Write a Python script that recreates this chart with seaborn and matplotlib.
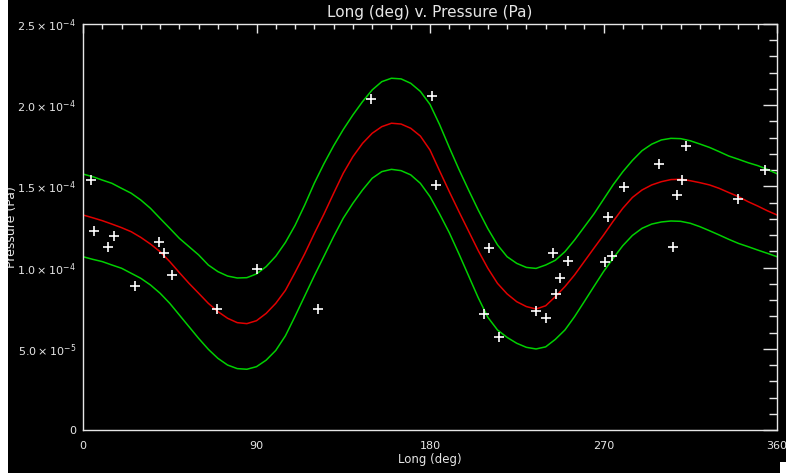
import numpy as np
import pandas as pd
import matplotlib
import matplotlib.pyplot as plt
import seaborn as sns
from matplotlib.ticker import MultipleLocator
from matplotlib.patches import Rectangle

# Force headless mode
matplotlib.use("Agg")

# --- Data (pressure in units of 1e-4 Pa) ---
fit_lon = list(range(0, 361, 5))
fit_mid = [1.324, 1.307, 1.289, 1.268, 1.246, 1.221, 1.186, 1.145, 1.098, 1.037,
           0.969, 0.903, 0.842, 0.780, 0.729, 0.688, 0.661, 0.655, 0.673, 0.718,
           0.78, 0.86, 0.97, 1.085, 1.21, 1.33, 1.457, 1.581, 1.683, 1.765,
           1.827, 1.868, 1.889, 1.884, 1.858, 1.810, 1.724, 1.595, 1.468, 1.345,
           1.225, 1.105, 0.996, 0.903, 0.838, 0.790, 0.760, 0.745, 0.765, 0.821,
           0.883, 0.955, 1.037, 1.119, 1.20, 1.285, 1.365, 1.432, 1.478, 1.509,
           1.529, 1.542, 1.544, 1.535, 1.523, 1.509, 1.488, 1.462, 1.437, 1.406,
           1.379, 1.350, 1.324]
fit_hi = [1.576, 1.560, 1.539, 1.519, 1.488, 1.458, 1.416, 1.365, 1.303, 1.242,
          1.180, 1.129, 1.078, 1.016, 0.975, 0.948, 0.936, 0.938, 0.961, 1.006,
          1.07, 1.155, 1.26, 1.385, 1.52, 1.64, 1.75, 1.85, 1.940, 2.022,
          2.094, 2.145, 2.166, 2.162, 2.135, 2.085, 2.005, 1.880, 1.74, 1.605,
          1.478, 1.355, 1.24, 1.140, 1.067, 1.026, 1.001, 0.995, 1.016, 1.045,
          1.098, 1.17, 1.25, 1.33, 1.42, 1.51, 1.59, 1.66, 1.72, 1.76,
          1.786, 1.796, 1.794, 1.781, 1.761, 1.740, 1.714, 1.687, 1.667, 1.646,
          1.628, 1.605, 1.578]
fit_lo = [1.067, 1.051, 1.037, 1.016, 0.996, 0.965, 0.934, 0.893, 0.842, 0.780,
          0.708, 0.636, 0.564, 0.497, 0.441, 0.400, 0.378, 0.374, 0.390, 0.43,
          0.49, 0.58, 0.70, 0.825, 0.95, 1.07, 1.191, 1.304, 1.396, 1.478,
          1.550, 1.591, 1.605, 1.597, 1.571, 1.519, 1.437, 1.330, 1.215, 1.085,
          0.950, 0.815, 0.694, 0.616, 0.570, 0.534, 0.509, 0.499, 0.512, 0.558,
          0.616, 0.698, 0.790, 0.883, 0.975, 1.057, 1.135, 1.198, 1.242, 1.268,
          1.281, 1.287, 1.285, 1.273, 1.252, 1.227, 1.201, 1.174, 1.149, 1.129,
          1.108, 1.088, 1.067]

obs_lon = [4.0, 5.7, 13.1, 16.2, 27.0, 39.4, 42.2, 46.2, 69.3, 90.2,
           121.9, 149.6, 181.0, 183.1, 208.0, 210.4, 215.6, 234.8, 240.0, 243.8,
           245.5, 247.6, 251.4, 270.6, 272.5, 274.5, 280.8, 298.8, 305.8, 308.3,
           310.5, 312.8, 339.6, 353.9]
obs_p = [1.539, 1.227, 1.129, 1.195, 0.889, 1.156, 1.088, 0.952, 0.745, 0.989,
         0.745, 2.037, 2.059, 1.507, 0.716, 1.119, 0.573, 0.733, 0.692, 1.088,
         0.837, 0.934, 1.043, 1.034, 1.313, 1.073, 1.498, 1.636, 1.127, 1.447,
         1.537, 1.749, 1.420, 1.601]

y_ticks = [0, 0.5e-4, 1.0e-4, 1.5e-4, 2.0e-4, 2.5e-4]
y_tick_labels = ["0", r"$5.0\times10^{-5}$", r"$1.0\times10^{-4}$",
                 r"$1.5\times10^{-4}$", r"$2.0\times10^{-4}$", r"$2.5\times10^{-4}$"]
x_ticks = [0, 90, 180, 270, 360]

# --- Prep ---
df_fit = pd.concat([
    pd.DataFrame({"lon": fit_lon, "pressure": np.array(fit_mid) * 1e-4, "band": "mid"}),
    pd.DataFrame({"lon": fit_lon, "pressure": np.array(fit_hi) * 1e-4, "band": "hi"}),
    pd.DataFrame({"lon": fit_lon, "pressure": np.array(fit_lo) * 1e-4, "band": "lo"}),
])
df_obs = pd.DataFrame({"lon": obs_lon, "pressure": np.array(obs_p) * 1e-4})

sns.set_style("dark")
plt.rcParams["font.family"] = ["DejaVu Sans"]
fg = "#e6e6e6"

fig = plt.figure(figsize=(7.86, 4.73), dpi=100, facecolor="black")
ax = fig.add_axes([83 / 786, 43 / 473, 694 / 786, 406 / 473])
ax.set_facecolor("black")

sns.lineplot(
    data=df_fit, x="lon", y="pressure", hue="band", units="band", estimator=None,
    palette={"mid": "#e00000", "hi": "#00d000", "lo": "#00d000"},
    linewidth=1.1, legend=False, ax=ax, sort=False,
)
sns.scatterplot(
    data=df_obs, x="lon", y="pressure", marker="+", s=60, color="white",
    linewidth=1.2, ax=ax, zorder=5,
)

ax.set_xlim(0, 360)
ax.set_ylim(0, 2.5e-4)
ax.set_xticks(x_ticks)
ax.xaxis.set_minor_locator(MultipleLocator(10))
ax.set_yticks(y_ticks)
ax.set_yticklabels(y_tick_labels)
ax.yaxis.set_minor_locator(MultipleLocator(1e-5))
ax.grid(False)

for s in ax.spines.values():
    s.set_color(fg)
    s.set_linewidth(1.0)

ax.tick_params(axis="both", which="both", direction="in", colors=fg,
               top=True, right=True, labelsize=8, width=1.0)
ax.tick_params(axis="x", which="major", length=6.5, pad=8)
ax.tick_params(axis="x", which="minor", length=3.5)
ax.tick_params(axis="y", which="major", length=10, pad=5)
ax.tick_params(axis="y", which="minor", length=5.5)

ax.set_xlabel("Long (deg)", color=fg, fontsize=8.5, labelpad=1)
ax.set_ylabel("Pressure (Pa)", color=fg, fontsize=9)
ax.yaxis.set_label_coords(-65 / 694, 0.5)
ax.set_title("Long (deg) v. Pressure (Pa)", color=fg, fontsize=11, pad=5)

# white border strips seen in the screenshot
fig.patches.append(Rectangle((0, 0), 8 / 786, 1, transform=fig.transFigure,
                             facecolor="white", edgecolor="none", zorder=10))
fig.patches.append(Rectangle((780 / 786, 0), 6 / 786, 11 / 473, transform=fig.transFigure,
                             facecolor="white", edgecolor="none", zorder=10))

fig.savefig("out.png", dpi=100, facecolor="black")
plt.close(fig)
